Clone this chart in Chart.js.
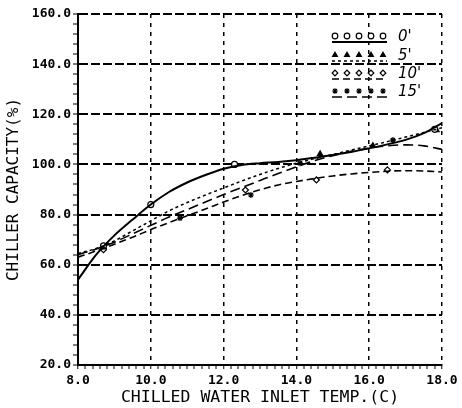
<!DOCTYPE html>
<html>
<head>
<meta charset="utf-8">
<script src="https://cdn.jsdelivr.net/npm/chart.js@4.4.0/dist/chart.umd.min.js"></script>
<style>
    html, body { margin: 0; padding: 0; background: #fff; }
    #wrap { width: 462px; height: 408px; }
</style>
</head>
<body>
<div id="wrap"><canvas id="chillerChart" width="462" height="408"></canvas></div>
<script>
// Chilled water inlet temperature (C) where the fitted curves are read
const curveTemps = [8, 8.5, 9, 9.5, 10, 10.5, 11, 11.5, 12, 12.5, 13, 13.5, 14, 14.5, 15, 15.5, 16, 16.5, 17, 17.5, 18];

// Fitted curves, chiller capacity (%)
const fit0  = [54, 64, 71.7, 78, 84, 89, 92.8, 95.8, 98.3, 99.8, 100.5, 101, 101.7, 102.7, 103.8, 105, 106.4, 108, 109.8, 112.5, 116.5];
const fit5  = [64.5, 66.5, 69.5, 73.5, 77.5, 81.5, 84.8, 87.8, 90.6, 93.4, 96, 98.4, 100.5, 102.3, 104, 105.7, 107.4, 109.1, 110.9, 112.7, 114.6];
const fit10 = [63, 65.5, 68.2, 71, 74, 76.8, 79.5, 82.2, 85, 87.6, 89.9, 91.8, 93.2, 94.4, 95.4, 96.2, 96.8, 97.3, 97.5, 97.4, 97];
const fit15 = [64, 66.3, 69, 72.3, 75.7, 79, 82, 85, 88, 90.8, 93.6, 96.4, 99, 101.5, 103.5, 105.2, 106.5, 107.4, 107.8, 107.4, 106];

// Measured points
const pts0x  = [8.7, 10.0, 12.3, 17.8];
const pts0y  = [67.5, 84, 100, 114];
const pts5x  = [8.7, 14.65, 16.1, 17.85];
const pts5y  = [67, 104.2, 107.5, 113.7];
const pts10x = [8.7, 12.6, 14.55, 16.5];
const pts10y = [66, 89.8, 93.8, 97.8];
const pts15x = [8.7, 10.8, 12.75, 14.1, 16.65];
const pts15y = [66.5, 78.6, 87.8, 100.5, 109.7];

const seriesLabels = ["0'", "5'", "10'", "15'"];

// axis ticks
const xMin = 8, xMax = 18, xMajor = 2, xMinor = 0.2;
const yMin = 20, yMax = 160, yMajor = 20, yMinor = 4;

const toXY = (xs, ys) => xs.map((x, i) => ({ x: x, y: ys[i] }));
const isMajor = (v, step) => Math.abs(v / step - Math.round(v / step)) < 1e-6;

const lineStyles = [
    { dash: [], width: 2 },
    { dash: [3, 3], width: 1.5 },
    { dash: [7, 4], width: 1.6 },
    { dash: [10, 5], width: 1.6 }
];
const markStyles = ['circle', 'triangle', 'rectRot', 'star'];
const hollow = (s) => s === 'circle' || s === 'rectRot';

function curveSet(data, st) {
    return {
        data: toXY(curveTemps, data),
        borderColor: '#000',
        borderWidth: st.width,
        borderDash: st.dash,
        pointRadius: 0,
        cubicInterpolationMode: 'monotone',
        fill: false
    };
}
function markSet(xs, ys, style) {
    return {
        data: toXY(xs, ys),
        showLine: false,
        pointStyle: style,
        pointRadius: 3,
        pointBorderColor: '#000',
        pointBackgroundColor: hollow(style) ? '#fff' : '#000',
        pointBorderWidth: 1.2
    };
}

// legend drawn inside the plot, top right
const insideLegend = {
    id: 'insideLegend',
    afterDraw(chart) {
        const ctx = chart.ctx;
        const rows = [36, 55, 73, 91];
        ctx.save();
        seriesLabels.forEach((lab, i) => {
            const y = rows[i];
            ctx.strokeStyle = '#000';
            ctx.lineWidth = lineStyles[i].width;
            ctx.setLineDash(lineStyles[i].dash);
            ctx.beginPath();
            ctx.moveTo(332, y + 6);
            ctx.lineTo(387, y + 6);
            ctx.stroke();
            ctx.setLineDash([]);
            ctx.lineWidth = 1.2;
            for (let k = 0; k < 5; k++) {
                ctx.fillStyle = hollow(markStyles[i]) ? '#fff' : '#000';
                ctx.strokeStyle = '#000';
                Chart.helpers.drawPoint(ctx, {
                    pointStyle: markStyles[i],
                    radius: 2.8,
                    borderWidth: 1.2,
                    rotation: 0
                }, 335 + k * 12, y);
            }
            ctx.fillStyle = '#000';
            ctx.font = 'italic 15px "DejaVu Sans"';
            ctx.textBaseline = 'middle';
            ctx.textAlign = 'left';
            ctx.fillText(lab, 398, y + 1);
        });
        ctx.restore();
    }
};

const ctx = document.getElementById('chillerChart').getContext('2d');
const chillerChart = new Chart(ctx, {
    type: 'line',
    data: {
        datasets: [
            curveSet(fit0, lineStyles[0]),
            curveSet(fit5, lineStyles[1]),
            curveSet(fit10, lineStyles[2]),
            curveSet(fit15, lineStyles[3]),
            markSet(pts0x, pts0y, markStyles[0]),
            markSet(pts5x, pts5y, markStyles[1]),
            markSet(pts10x, pts10y, markStyles[2]),
            markSet(pts15x, pts15y, markStyles[3])
        ]
    },
    options: {
        responsive: false,
        animation: false,
        layout: { padding: { top: 14, right: 20, left: 0, bottom: 0 } },
        plugins: {
            legend: { display: false },
            tooltip: { enabled: false }
        },
        scales: {
            x: {
                type: 'linear',
                min: xMin,
                max: xMax,
                afterFit: function(scale) { scale.height = 43; },
                ticks: {
                    stepSize: xMinor,
                    autoSkip: false,
                    maxRotation: 0,
                    padding: 4,
                    color: '#000',
                    font: { family: '"DejaVu Sans Mono"', size: 13, weight: 'bold' },
                    callback: function(v) { return isMajor(v, xMajor) ? Number(v).toFixed(1) : ''; }
                },
                grid: {
                    color: (c) => (c.tick && isMajor(c.tick.value, xMajor)) ? '#000' : 'rgba(0,0,0,0)',
                    lineWidth: (c) => (c.tick && isMajor(c.tick.value, xMajor)) ? 1.5 : 0,
                    tickColor: '#000',
                    tickLength: 4,
                    tickWidth: 1
                },
                border: { display: true, color: '#000', width: 2, dash: [4, 5] },
                title: {
                    display: true,
                    text: 'CHILLED WATER INLET TEMP.(C)',
                    color: '#000',
                    padding: { top: 0, bottom: 0 },
                    font: { family: '"DejaVu Sans Mono"', size: 16.5, weight: 'normal' }
                }
            },
            y: {
                type: 'linear',
                min: yMin,
                max: yMax,
                afterFit: function(scale) { scale.width = 78; },
                ticks: {
                    stepSize: yMinor,
                    autoSkip: false,
                    padding: 2,
                    color: '#000',
                    font: { family: '"DejaVu Sans Mono"', size: 13, weight: 'bold' },
                    callback: function(v) { return isMajor(v, yMajor) ? Number(v).toFixed(1) : ''; }
                },
                grid: {
                    color: (c) => (c.tick && isMajor(c.tick.value, yMajor)) ? '#000' : 'rgba(0,0,0,0)',
                    lineWidth: (c) => (c.tick && isMajor(c.tick.value, yMajor)) ? 2 : 0,
                    tickColor: '#000',
                    tickLength: 5,
                    tickWidth: 1
                },
                border: { display: true, color: '#000', width: 2, dash: [9, 3] },
                title: {
                    display: true,
                    text: 'CHILLER CAPACITY(%)',
                    color: '#000',
                    padding: { top: 4, bottom: 0 },
                    font: { family: '"DejaVu Sans Mono"', size: 16, weight: 'normal' }
                }
            }
        }
    },
    plugins: [insideLegend]
});
</script>
</body>
</html>
